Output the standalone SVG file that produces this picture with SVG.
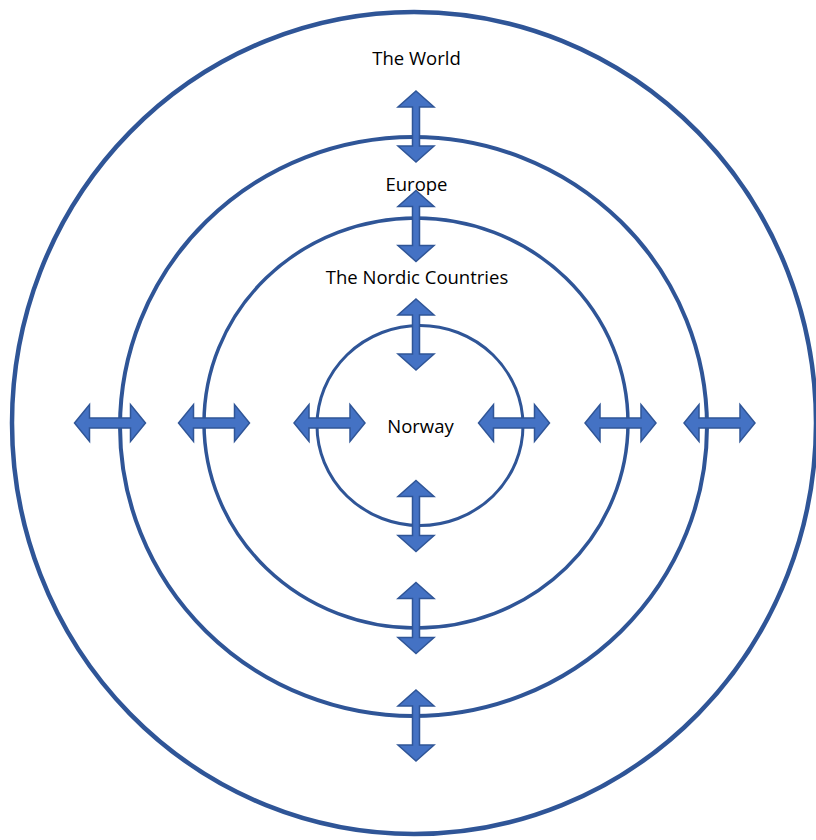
<svg xmlns="http://www.w3.org/2000/svg" xmlns:xlink="http://www.w3.org/1999/xlink" width="816" height="840" viewBox="0 0 816 840">
<style>
.ring{fill:none;stroke:#2F5597}
.arr{fill:#4472C4;stroke:#2F5597;stroke-width:1.5;stroke-linejoin:miter}
.lbl{font-family:"Open Sans","Liberation Sans",sans-serif;font-size:18.5px;fill:#000;text-anchor:middle}
</style>
<defs>
<path id="va" d="M0,-35.5 L18,-19.5 L3.5,-19.5 L3.5,19.5 L18,19.5 L0,35.5 L-18,19.5 L-3.5,19.5 L-3.5,-19.5 L-18,-19.5 Z"/>
<path id="ha" d="M-35.5,0 L-20.5,-18.5 L-20.5,-5 L20.5,-5 L20.5,-18.5 L35.5,0 L20.5,18.5 L20.5,5 L-20.5,5 L-20.5,18.5 Z"/>
</defs>
<rect width="816" height="840" fill="#fff"/>
<g id="world">
<ellipse class="ring" cx="414" cy="423" rx="402" ry="411" stroke-width="4.5"/>
<text class="lbl" x="416.5" y="65">The World</text>
</g>
<g id="europe">
<ellipse class="ring" cx="413.5" cy="426.5" rx="293.5" ry="289.5" stroke-width="4"/>
<text class="lbl" x="416.5" y="191">Europe</text>
</g>
<g id="nordic">
<ellipse class="ring" cx="416" cy="423" rx="212" ry="205" stroke-width="3.5"/>
<text class="lbl" x="417" y="284">The Nordic Countries</text>
</g>
<g id="norway">
<ellipse class="ring" cx="420" cy="425.5" rx="103" ry="100" stroke-width="3"/>
<text class="lbl" x="420.5" y="433">Norway</text>
</g>
<g id="connectors">
<use xlink:href="#va" class="arr" x="416" y="126.5"/>
<use xlink:href="#va" class="arr" x="416" y="226"/>
<use xlink:href="#va" class="arr" x="416" y="334.5"/>
<use xlink:href="#va" class="arr" x="416" y="516"/>
<use xlink:href="#va" class="arr" x="416" y="618"/>
<use xlink:href="#va" class="arr" x="416" y="725.5"/>
<use xlink:href="#ha" class="arr" x="110" y="423"/>
<use xlink:href="#ha" class="arr" x="214" y="423"/>
<use xlink:href="#ha" class="arr" x="329.5" y="423"/>
<use xlink:href="#ha" class="arr" x="514" y="423"/>
<use xlink:href="#ha" class="arr" x="620.5" y="423"/>
<use xlink:href="#ha" class="arr" x="719.5" y="423"/>
</g>
</svg>
